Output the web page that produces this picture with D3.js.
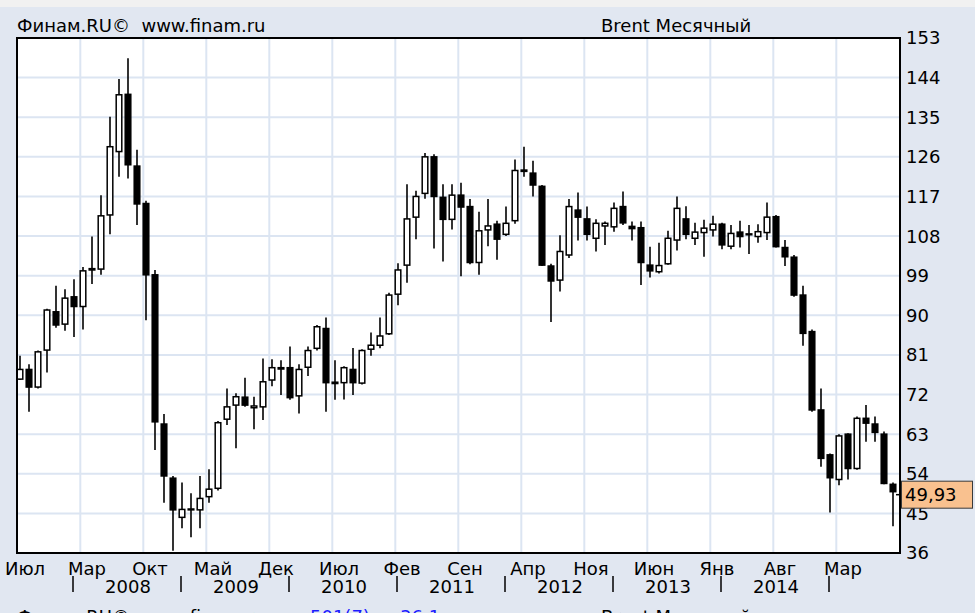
<!DOCTYPE html>
<html>
<head>
<meta charset="utf-8">
<script src="https://cdn.jsdelivr.net/npm/d3@7"></script>
<style>
body{margin:0;background:#e1e7f1;overflow:hidden;}
text{font-family:"DejaVu Sans",Verdana,sans-serif;font-size:18px;fill:#000;}
</style>
</head>
<body>
<div id="chart"></div>
<script>
// Brent, monthly candles Jul 2007 - Aug 2015
var open  = [75.5,77.7,73.7,82.1,90.8,88.0,94.2,92.0,100.3,100.5,112.8,127.2,140.2,123.9,115.4,99.2,65.3,53.0,44.1,45.8,
             45.8,48.8,50.7,66.4,69.6,71.4,69.0,69.2,75.3,77.8,78.1,71.7,78.2,82.5,87.0,74.5,74.7,77.7,74.6,82.3,
             83.2,85.8,94.8,101.4,112.3,117.7,126.0,116.8,111.8,117.3,114.7,102.0,109.4,110.7,108.4,111.5,122.7,122.3,119.3,101.2,
             98.0,103.7,113.9,111.9,107.5,110.3,110.1,114.7,110.2,109.9,101.4,99.9,101.7,107.1,111.9,107.5,108.8,109.4,110.7,105.7,
             108.9,108.3,107.9,108.8,112.4,105.4,103.2,94.6,86.3,68.5,58.3,52.7,63.0,55.2,66.6,65.3,63.0,51.6];
var high  = [80.8,78.9,82.0,91.5,96.7,95.9,98.2,101.0,107.9,117.3,135.1,143.7,148.4,127.6,116.0,100.3,67.6,53.5,52.0,49.6,
             53.5,55.0,66.0,73.4,72.3,75.8,71.5,80.2,80.0,79.8,82.9,78.9,82.9,87.8,89.5,79.8,78.4,82.6,82.3,86.1,
             89.5,95.1,101.8,119.8,118.3,126.9,126.6,119.8,119.8,120.1,116.4,113.5,116.4,111.5,114.7,125.4,128.3,125.1,119.6,101.7,
             108.2,116.4,117.9,114.7,111.8,111.3,115.6,118.1,111.3,111.3,105.6,106.5,109.2,117.0,114.8,111.0,111.7,112.6,111.0,110.5,
             111.5,110.5,110.7,115.6,112.8,107.1,103.7,96.7,86.8,73.4,58.6,63.0,63.2,67.0,69.6,67.0,63.6,52.0];
var low   = [75.3,68.1,73.4,77.0,87.2,86.5,85.1,86.8,97.1,99.2,108.4,121.5,121.1,110.5,88.9,59.4,47.4,36.5,41.6,39.6,
             41.6,47.4,50.2,65.1,59.8,69.2,64.1,66.2,73.9,71.9,70.8,67.7,76.2,82.0,68.1,70.8,70.9,71.9,74.3,80.8,
             82.5,85.5,92.3,97.4,107.3,116.5,105.2,102.2,109.5,98.9,101.6,99.2,105.7,102.6,108.0,110.8,121.5,117.0,101.2,88.5,
             95.4,103.0,107.0,107.0,104.5,106.0,109.0,110.5,107.0,96.9,98.6,99.5,101.5,104.7,107.3,106.0,103.3,107.9,105.0,105.0,
             105.4,103.9,106.5,107.1,105.4,101.2,94.2,83.1,68.1,55.6,45.2,51.4,52.7,54.9,61.3,61.3,51.6,42.1];
var close = [77.7,73.7,81.7,91.2,87.8,93.9,92.0,100.1,100.6,112.6,128.3,140.1,124.2,115.3,99.2,65.8,53.5,45.8,45.9,46.0,
             48.4,50.5,65.6,69.2,71.5,69.6,69.4,74.9,78.1,78.1,71.3,77.7,82.0,87.4,74.7,74.8,78.1,74.7,82.0,83.2,
             85.3,94.6,100.3,111.9,117.0,126.0,117.0,111.8,117.3,114.6,102.0,109.2,110.3,107.3,110.9,122.9,123.0,119.6,101.4,97.8,
             104.5,114.7,112.3,108.4,110.9,110.9,114.3,111.0,109.7,102.0,100.1,101.3,107.5,114.3,108.4,108.9,109.8,110.7,106.0,108.6,
             107.9,108.5,109.0,112.3,105.6,103.3,94.6,85.9,68.5,57.5,53.1,62.6,55.2,66.6,65.5,63.4,51.8,49.93];

var monthLabels = ["Июл","Мар","Окт","Май","Дек","Июл","Фев","Сен","Апр","Ноя","Июн","Янв","Авг","Мар"];
var monthIndex  = [0,8,15,22,29,36,43,50,57,64,71,78,85,92];
var yearLabels  = ["2008","2009","2010","2011","2012","2013","2014"];
var yearMid     = [12,24,36,48,60,72,84];
var yearSep     = [6,18,30,42,54,66,78,90];
var yTicks      = [36,45,54,63,72,81,90,99,108,117,126,135,144,153];

var W = 975, H = 613;
var svg = d3.select("#chart").append("svg").attr("width", W).attr("height", H);

svg.append("rect").attr("x",0).attr("y",0).attr("width",W).attr("height",H).attr("fill","#e1e7f1");
svg.append("rect").attr("x",0).attr("y",0).attr("width",W).attr("height",7).attr("fill","#f1f1f1");

var x = d3.scaleLinear().domain([0, close.length - 1]).range([20, 893]);
var y = d3.scaleLinear().domain([36, 153]).range([553, 38]);

// plot area
svg.append("rect").attr("x",17).attr("y",38).attr("width",883).attr("height",515).attr("fill","#fff");

var grid = svg.append("g");
grid.selectAll(".hg").data(yTicks.slice(1, -1)).enter().append("line")
    .attr("x1",17).attr("x2",900)
    .attr("y1",function(d){return y(d);}).attr("y2",function(d){return y(d);})
    .attr("stroke","#dce5f2").attr("stroke-width",2);
grid.selectAll(".vg").data(monthIndex.slice(1)).enter().append("line")
    .attr("x1",function(d){return x(d - 1.3);}).attr("x2",function(d){return x(d - 1.3);})
    .attr("y1",38).attr("y2",553)
    .attr("stroke","#dce5f2").attr("stroke-width",2);

// candles
var candles = svg.append("g");
var idx = d3.range(close.length);
candles.selectAll(".wick").data(idx).enter().append("line")
    .attr("x1",function(i){return x(i);}).attr("x2",function(i){return x(i);})
    .attr("y1",function(i){return y(high[i]);}).attr("y2",function(i){return y(low[i]);})
    .attr("stroke","#000").attr("stroke-width",1.6);
candles.selectAll(".body").data(idx).enter().append("rect")
    .attr("x",function(i){return x(i) - 2.8;})
    .attr("width",5.6)
    .attr("y",function(i){return y(Math.max(open[i], close[i]));})
    .attr("height",function(i){return Math.max(Math.abs(y(open[i]) - y(close[i])), 0.8);})
    .attr("fill",function(i){return close[i] >= open[i] ? "#fff" : "#000";})
    .attr("stroke","#000").attr("stroke-width",1.5);

svg.append("rect").attr("x",17).attr("y",38).attr("width",883).attr("height",515)
    .attr("fill","none").attr("stroke","#000").attr("stroke-width",2);

// y labels
svg.selectAll(".yl").data(yTicks).enter().append("text")
    .attr("x",906).attr("y",function(d){return y(d);}).attr("dy","0.36em")
    .text(function(d){return d;});

// last price marker
var last = close[close.length - 1];
var ly = y(last) + 3;
svg.append("line").attr("x1",896).attr("x2",902).attr("y1",ly).attr("y2",ly).attr("stroke","#000").attr("stroke-width",1.5);
svg.append("rect").attr("x",901.5).attr("y",ly - 13.5).attr("width",71).attr("height",27)
    .attr("fill","#f9c18f").attr("stroke","#3a3a3a").attr("stroke-width",1);
svg.append("text").attr("x",905).attr("y",ly).attr("dy","0.36em").text(d3.format(".2f")(last).replace(".", ","));

// x labels
svg.selectAll(".ml").data(monthIndex).enter().append("text")
    .attr("y",575).attr("text-anchor","middle")
    .text(function(d, k){return monthLabels[k];})
    .attr("x",function(d){
        var half = this.getComputedTextLength() / 2;
        return Math.max(x(d) - 5, 5 + half);
    });
svg.selectAll(".yr").data(yearMid).enter().append("text")
    .attr("x",function(d){return x(d);}).attr("y",593).attr("text-anchor","middle")
    .text(function(d, k){return yearLabels[k];});
svg.selectAll(".ys").data(yearSep).enter().append("line")
    .attr("x1",function(d){return x(d) - 1;}).attr("x2",function(d){return x(d) - 1;})
    .attr("y1",576).attr("y2",592).attr("stroke","#000").attr("stroke-width",1.5);

// header
svg.append("text").attr("x",17).attr("y",32).attr("xml:space","preserve").text("Финам.RU©  www.finam.ru");
svg.append("text").attr("x",601).attr("y",32).text("Brent Месячный");

// footer, cut by the window edge
svg.append("text").attr("x",17).attr("y",623).attr("xml:space","preserve").text("Финам.RU©  www.finam.ru");
svg.append("text").attr("x",310).attr("y",623).style("fill","#1a1aff").text("501(7)");
svg.append("text").attr("x",400).attr("y",623).style("fill","#1a1aff").text("36,1");
svg.append("text").attr("x",601).attr("y",623).text("Brent Месячный");
</script>
</body>
</html>
